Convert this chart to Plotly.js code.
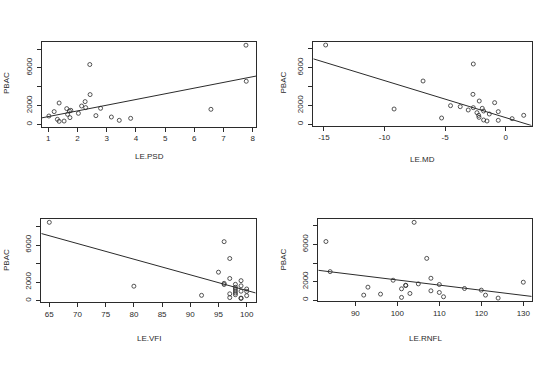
<!DOCTYPE html>
<html>
<head>
<meta charset="utf-8">
<script src="https://cdn.plot.ly/plotly-3.0.1.min.js"></script>
<style>html,body{margin:0;padding:0;background:#fff;}#plot{width:553px;height:368px;}</style>
</head>
<body>
<div id="plot"></div>
<script>
// ---- data ----
const psdX = [1.02,1.20,1.37,1.31,1.37,1.54,1.63,1.66,1.72,1.77,1.74,2.03,2.14,2.26,2.28,2.42,2.43,2.63,2.79,3.16,3.43,3.82,7.77,7.78,6.57];
const psdY = [884,1353,2269,533,320,351,1672,1065,1417,1491,714,1172,1949,2418,1779,6358,3163,927,1704,778,426,639,8413,4580,1598];

const mdX = [-14.86,-9.21,-6.82,-5.29,-4.55,-3.75,-3.09,-2.67,-2.70,-2.67,-2.18,-1.93,-1.82,-2.37,-2.23,-2.20,-1.35,-1.82,-1.54,-0.91,-0.61,-0.61,0.53,1.49];
const mdY = [8400,1623,4588,670,1976,1871,1517,6388,3176,1765,2470,1694,1412,1235,953,741,1094,459,353,2294,1341,424,600,954];

const vfiX = [65,80,92,95,96,96,96,97,97,97,97,98,98,98,98,98,98,99,99,99,99,99,100,100,100];
const vfiY = [8444,1560,575,3070,6360,1870,1740,4545,2390,740,330,1760,1440,1258,1042,826,640,2155,1600,1020,280,240,1258,1000,540];

const rnflX = [83,84,92,93,96,99,101,101,102,102,103,104,105,107,108,108,110,110,111,116,120,121,124,130];
const rnflY = [6321,3071,536,1393,643,2143,1214,286,1571,1600,714,8393,1750,4500,2357,1000,1679,821,357,1250,1071,536,214,1929];

// fitted line coefficients (intercept, slope)
const fitPSD = [220, 605];
const fitMD = [710, -392];
const fitVFI = [17950, -168.5];
const fitRNFL = [7720, -55.5];

// tick labels
const psdTicks = [1,2,3,4,5,6,7,8];
const mdTicks = [-15,-10,-5,0];
const mdTickText = ['-15','-10','-5','0'];
const vfiTicks = [65,70,75,80,85,90,95,100];
const rnflTicks = [90,100,110,120,130];
const yTicks = [0,2000,4000,6000,8000];
const yTickText = ['0','2000','','6000',''];
const xLabels = ['LE.PSD','LE.MD','LE.VFI','LE.RNFL'];
const yLabel = 'PBAC';

// ---- layout helpers ----
const W = 553, H = 368;
const panels = [
  {x:psdX, y:psdY, fit:fitPSD, tv:psdTicks, tt:psdTicks.map(String), box:[42,256,42.3,126.7], xr:[0.783,8.114], yr:[-250,8720], lab:xLabels[0], labY:157, yLabX:6, yLabY:83},
  {x:mdX, y:mdY, fit:fitMD, tv:mdTicks, tt:mdTickText, box:[313.3,531.7,42.3,125.7], xr:[-15.88,2.15], yr:[-145,8686], lab:xLabels[1], labY:160, yLabX:282.5, yLabY:83},
  {x:vfiX, y:vfiY, fit:fitVFI, tv:vfiTicks, tt:vfiTicks.map(String), box:[41.3,255.7,219.3,302.3], xr:[63.58,101.6], yr:[-176,8770], lab:xLabels[2], labY:338, yLabX:6, yLabY:260},
  {x:rnflX, y:rnflY, fit:fitRNFL, tv:rnflTicks, tt:rnflTicks.map(String), box:[318.3,531.7,219.3,301], xr:[81.18,132.0], yr:[-100,8720], lab:xLabels[3], labY:338, yLabX:282.5, yLabY:260}
];

const ink = '#2b2b2b';
const fnt = {family:'Liberation Sans, Arial, sans-serif', size:8, color:ink};
const data = [];
const layout = {
  width:W, height:H, margin:{l:0,r:0,t:0,b:0},
  paper_bgcolor:'#fff', plot_bgcolor:'#fff', showlegend:false,
  font:fnt, annotations:[]
};

panels.forEach((p,i)=>{
  const n = i===0 ? '' : String(i+1);
  const xa = 'x'+n, ya = 'y'+n;
  data.push({type:'scatter', mode:'markers', x:p.x, y:p.y, xaxis:xa, yaxis:ya,
    marker:{symbol:'circle-open', size:4, color:ink, line:{width:0.8, color:ink}}, hoverinfo:'skip'});
  const lx = p.xr.slice();
  data.push({type:'scatter', mode:'lines', x:lx, y:lx.map(v=>p.fit[0]+p.fit[1]*v), xaxis:xa, yaxis:ya,
    line:{color:ink, width:1}, hoverinfo:'skip'});
  const common = {showline:true, mirror:true, linecolor:ink, linewidth:1, ticks:'outside', ticklen:4, tickwidth:1,
    tickcolor:ink, showgrid:false, zeroline:false, tickfont:fnt, fixedrange:true};
  layout['xaxis'+n] = Object.assign({}, common, {domain:[p.box[0]/W, p.box[1]/W], range:p.xr, anchor:ya,
    tickmode:'array', tickvals:p.tv, ticktext:p.tt});
  layout['yaxis'+n] = Object.assign({}, common, {domain:[1-p.box[3]/H, 1-p.box[2]/H], range:p.yr, anchor:xa,
    tickmode:'array', tickvals:yTicks, ticktext:yTickText, tickangle:-90, ticklabelstandoff:2});
  layout.annotations.push({xref:'paper', yref:'paper', x:(p.box[0]+p.box[1])/2/W, y:1-p.labY/H,
    text:p.lab, showarrow:false, xanchor:'center', yanchor:'middle', font:fnt});
  layout.annotations.push({xref:'paper', yref:'paper', x:p.yLabX/W, y:1-p.yLabY/H,
    text:yLabel, showarrow:false, xanchor:'center', yanchor:'middle', textangle:-90, font:fnt});
});

Plotly.newPlot('plot', data, layout, {displayModeBar:false, staticPlot:true});
</script>
</body>
</html>
